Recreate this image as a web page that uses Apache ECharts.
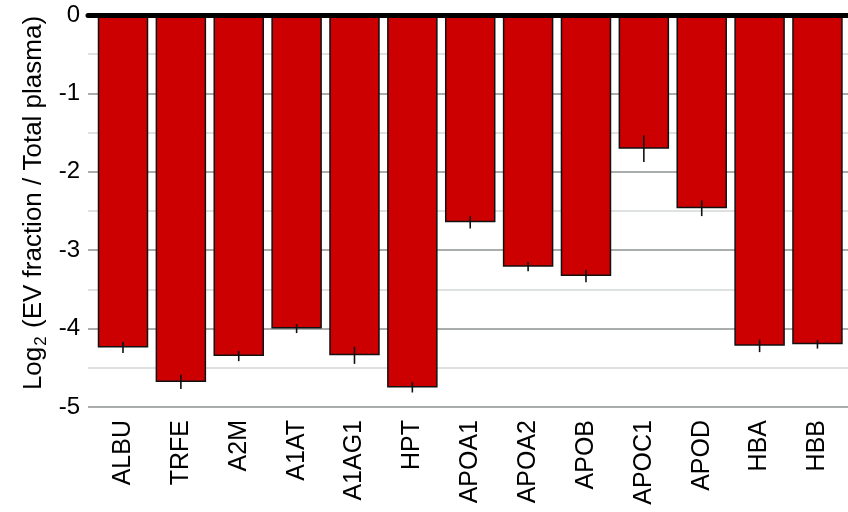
<!DOCTYPE html>
<html>
<head>
<meta charset="utf-8">
<script src="https://cdn.jsdelivr.net/npm/echarts@6/dist/echarts.min.js"></script>
<style>
  html, body { margin: 0; padding: 0; background: #fff; }
  #chart { width: 848px; height: 512px; }
</style>
</head>
<body>
<div id="chart"></div>
<script>
// Plasma proteins and their log2 ratio (EV fraction / total plasma)
const proteins = ['ALBU', 'TRFE', 'A2M', 'A1AT', 'A1AG1', 'HPT', 'APOA1', 'APOA2', 'APOB', 'APOC1', 'APOD', 'HBA', 'HBB'];
const log2Ratio = [-4.24, -4.68, -4.35, -4.00, -4.34, -4.75, -2.645, -3.21, -3.33, -1.705, -2.465, -4.22, -4.20];
const stdError = [0.07, 0.09, 0.065, 0.057, 0.11, 0.065, 0.078, 0.06, 0.08, 0.17, 0.10, 0.08, 0.055];
const yTicks = [0, -1, -2, -3, -4, -5];

const FONT = '"Liberation Sans", Arial, Helvetica, sans-serif';

const errorData = proteins.map((p, i) => [i, log2Ratio[i] - stdError[i], log2Ratio[i] + stdError[i]]);

const chart = echarts.init(document.getElementById('chart'), null, { renderer: 'canvas' });

chart.setOption({
  animation: false,
  backgroundColor: '#ffffff',
  grid: [
    // frame carrying the gridlines, zero line and y tick labels
    { left: 88, right: 0, top: 15, height: 392, containLabel: false },
    // frame carrying the bars and the protein labels
    { left: 94.06, right: 1.6, top: 15, height: 392, containLabel: false }
  ],
  xAxis: [
    {
      gridIndex: 0, type: 'value', min: 0, max: 1, position: 'top', offset: 2.5, z: 10,
      axisLine: { show: true, lineStyle: { color: '#000', width: 5 } },
      axisTick: { show: false }, axisLabel: { show: false }, splitLine: { show: false }
    },
    {
      gridIndex: 1, type: 'category', data: proteins, position: 'bottom',
      axisLine: { show: false }, axisTick: { show: false }, splitLine: { show: false },
      axisLabel: {
        rotate: 90, margin: 13, fontSize: 25, color: '#000', fontFamily: FONT, interval: 0
      }
    }
  ],
  yAxis: [
    {
      gridIndex: 0, type: 'value', min: -5, max: 0, interval: 0.5,
      axisLine: { show: false }, axisTick: { show: false },
      axisLabel: {
        fontSize: 24, color: '#000', fontFamily: FONT, margin: 8,
        formatter: v => (yTicks.indexOf(v) >= 0 ? String(v) : '')
      },
      splitLine: { show: true, lineStyle: { color: ['#8c9291', '#d2d8d6'], width: 1.6 } }
    },
    {
      gridIndex: 1, type: 'value', min: -5, max: 0, show: false
    }
  ],
  graphic: [
    {
      type: 'text', x: 34, y: 203, rotation: Math.PI / 2,
      style: {
        text: '{a|Log}{s|2}{a| (EV fraction / Total plasma)}',
        align: 'center', verticalAlign: 'middle',
        rich: {
          a: { fontSize: 26, fontFamily: FONT, fill: '#000', lineHeight: 32 },
          s: { fontSize: 17, fontFamily: FONT, fill: '#000', lineHeight: 17, verticalAlign: 'bottom', padding: [0, 1, 0, 1] }
        }
      }
    }
  ],
  series: [
    {
      type: 'bar', xAxisIndex: 1, yAxisIndex: 1, data: log2Ratio,
      barWidth: 50.5,
      itemStyle: { color: '#cc0000', borderColor: '#111', borderWidth: 1.5 },
      z: 2
    },
    {
      type: 'custom', xAxisIndex: 1, yAxisIndex: 1, data: errorData, z: 3,
      renderItem: (params, api) => {
        const lo = api.coord([api.value(0), api.value(1)]);
        const hi = api.coord([api.value(0), api.value(2)]);
        return {
          type: 'line',
          shape: { x1: lo[0], y1: lo[1], x2: hi[0], y2: hi[1] },
          style: { stroke: '#111', lineWidth: 1.6 }
        };
      }
    }
  ]
});
</script>
</body>
</html>
